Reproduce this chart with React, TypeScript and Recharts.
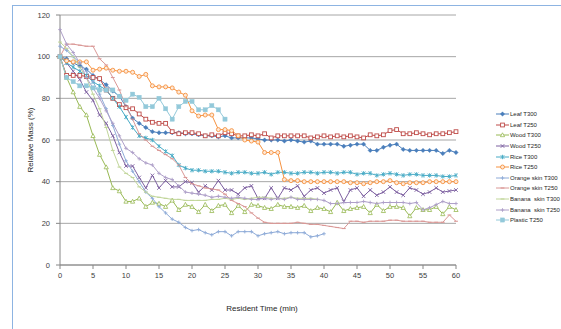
import React from "react";
import { LineChart, Line, XAxis, YAxis, CartesianGrid } from "recharts";

const times = [
  0, 1, 2, 3, 4, 5, 6, 7, 8, 9, 10, 11, 12, 13, 14, 15, 16, 17, 18, 19, 20,
  21, 22, 23, 24, 25, 26, 27, 28, 29, 30, 31, 32, 33, 34, 35, 36, 37, 38, 39, 40,
  41, 42, 43, 44, 45, 46, 47, 48, 49, 50, 51, 52, 53, 54, 55, 56, 57, 58, 59, 60,
];
const xTicks = [0, 5, 10, 15, 20, 25, 30, 35, 40, 45, 50, 55, 60];
const yTicks = [0, 20, 40, 60, 80, 100, 120];

const leafT300 = [
  100, 99, 97, 95.5, 94, 91, 89, 86.5, 83.5, 81,
  76, 70.5, 68, 66, 64, 63.5, 63.5, 63.5, 63.5, 63,
  63, 62.5, 62, 62, 61.5, 62, 61, 61, 61, 61,
  60.5, 60, 60, 60, 59.5, 60, 59.5, 59, 59.5, 58,
  58, 58, 58, 57, 57.5, 58, 58, 55, 55, 56.5,
  57.5, 58, 55.5, 55, 55, 55, 55, 55, 53.5, 55,
  54,
];
const leafT250 = [
  100, 91, 91, 91, 90.5, 90, 89.5, 84, 80, 77,
  75.5, 75, 72.5, 70, 68.5, 68, 68, 64, 63, 63.5,
  63.5, 63, 62, 62.5, 62, 63.5, 63, 62, 62, 62.5,
  62, 63, 61, 62, 62, 62, 62, 62, 61, 61.5,
  62, 61.5, 62, 61.5, 62, 61.5, 61, 62.5, 62, 62.5,
  64.5, 65, 63, 63, 63.5, 63, 62.5, 63, 63, 63.5,
  64,
];
const woodT300 = [
  100, 90, 83, 76, 72, 62, 53, 47, 37, 35.5,
  30.5, 30.5, 32, 28, 30, 29.5, 28, 31, 26.5, 29,
  28, 25.5, 29, 26, 28.5, 29, 25, 28.5, 25.5, 29,
  28.5, 27.5, 27, 29, 28, 28, 27.5, 28.5, 26, 27.5,
  27, 25.5, 30, 26, 27, 27.5, 28, 25, 29, 26,
  28, 28, 27.5, 23.5, 27.5, 26.5, 26.5, 28, 24.5, 28,
  26.5,
];
const woodT250 = [
  100, 97, 93, 89, 83, 79, 72, 68, 62, 54,
  47.5, 47.5, 42, 37, 43, 37, 40.5, 37.5, 37.5, 40,
  39.5, 35, 38, 36, 40.5, 36, 36, 34, 37, 38,
  32, 32, 37, 32, 37, 36, 38, 33, 36, 37,
  34.5, 36, 37, 30.5, 36, 37, 33, 36, 33.5, 35,
  37.5, 35, 33.5, 37, 36, 34, 35, 37, 35, 35.5,
  36,
];
const riceT300 = [
  100, 97, 95, 93, 91, 88, 86, 84, 80, 76,
  71, 66, 62, 61, 60, 57, 54.5, 52.5, 48, 46.5,
  45.5, 45.5, 45, 45, 45, 44.5, 44, 44.5, 44.5, 44,
  44, 44.5, 43.5, 44.5, 44.5, 44, 44, 44.5, 44.5, 44,
  44.5, 44.5, 44, 44.5, 44.5, 43.5, 44, 44, 43, 43.5,
  44, 43.5, 43, 43.5, 43.5, 43, 43, 43, 42.5, 42.5,
  43,
];
const riceT250 = [
  100, 98, 97.5, 97.5, 97.5, 93.5, 94, 94.5, 93.5, 93,
  93, 92.5, 90.5, 91.5, 86, 85.5, 85.5, 85, 83, 81.5,
  74, 71.5, 72, 72, 65, 65, 64.5, 62, 60, 59.5,
  59, 54, 54, 54, 41, 40.5, 40.5, 40, 40, 40,
  40, 40, 40, 40, 39.5, 39.5, 39, 39.5, 40, 40,
  40.5, 39.5, 39, 39.5, 39.5, 39.5, 40, 40, 40, 40,
  40,
];
const orangeSkinT300 = [
  105, 103, 100, 97, 93, 88, 82, 75, 67, 58,
  50, 45, 40, 35, 32, 28, 25, 22, 20.5, 18,
  16.5, 17, 15.5, 14.5, 16, 16, 14, 16, 16, 16,
  14, 15, 15.5, 16, 15, 15.5, 15.5, 15.5, 13.5, 14,
  15,
];
const orangeSkinT250 = [
  100, 106, 106, 105.5, 105, 105, 99, 96, 90, 84,
  76, 70, 63, 60, 57, 55, 53, 51, 48, 42,
  39, 38, 37, 36.5, 36, 34, 31, 29.5, 28, 25,
  22.5, 20.5, 20, 20, 20, 20, 20.5, 20, 19.5, 19.5,
  19, 18.5, 18, 17.5, 21, 21, 20.5, 21, 21, 21,
  21.5, 21.5, 21, 21, 21, 21, 20.5, 20.5, 20.5, 24,
  21,
];
const bananaSkinT300 = [
  107, 104, 100, 95, 90, 82, 75, 66, 55, 47,
  44, 42, 37.5, 35, 33, 32.5, 32, 31.5, 31.5, 31,
  31, 31, 31, 31.5, 31.5, 32, 31.5, 32, 31.5, 32,
  32.5, 32.5, 32, 32, 32, 32.5, 32, 32, 32, 31.5,
];
const bananaSkinT250 = [
  113, 106, 102, 97, 90, 85, 80, 74, 68, 62,
  56, 54, 51, 49, 48, 44, 42, 41, 38, 35,
  34.5, 34, 33.5, 32.5, 33, 32.5, 32, 32.5, 32, 31.5,
  31.5, 32, 31.5, 32, 31.5, 32.5, 31.5, 31.5, 31.5, 31.5,
  31, 29.5, 29.5, 30, 30, 30, 30.5, 30, 29.5, 30,
  30, 30, 30, 29.5, 30, 26.5, 27.5, 29, 30.5, 29.5,
  29.5,
];
const plasticT250 = [
  100, 90, 88, 86, 86, 85, 84, 84, 84, 81,
  79, 82, 80.5, 76, 76, 80, 75, 70, 76, 78.5,
  78.5, 74.5, 74.5, 76.5, 74.5, 70,
];

type Shape =
  | "diamond"
  | "square"
  | "triangle"
  | "x"
  | "star"
  | "circle"
  | "plus"
  | "dash"
  | "filledSquare";

const series: { key: string; name: string; values: number[]; color: string; shape: Shape }[] = [
  { key: "leafT300", name: "Leaf T300", values: leafT300, color: "#4A7EBB", shape: "diamond" },
  { key: "leafT250", name: "Leaf T250", values: leafT250, color: "#BE4B48", shape: "square" },
  { key: "woodT300", name: "Wood T300", values: woodT300, color: "#98B954", shape: "triangle" },
  { key: "woodT250", name: "Wood T250", values: woodT250, color: "#7D60A0", shape: "x" },
  { key: "riceT300", name: "Rice T300", values: riceT300, color: "#46AAC5", shape: "star" },
  { key: "riceT250", name: "Rice T250", values: riceT250, color: "#F69240", shape: "circle" },
  { key: "orangeSkinT300", name: "Orange skin T300", values: orangeSkinT300, color: "#8EABD8", shape: "plus" },
  { key: "orangeSkinT250", name: "Orange skin T250", values: orangeSkinT250, color: "#DA9896", shape: "dash" },
  { key: "bananaSkinT300", name: "Banana  skin T300", values: bananaSkinT300, color: "#C1D69A", shape: "dash" },
  { key: "bananaSkinT250", name: "Banana  skin T250", values: bananaSkinT250, color: "#AE9FC8", shape: "plus" },
  { key: "plasticT250", name: "Plastic T250", values: plasticT250, color: "#93C9DA", shape: "filledSquare" },
];

const rows = times.map((t, i) => {
  const r: Record<string, number | null> = { t };
  series.forEach((s) => {
    r[s.key] = s.values[i] === undefined ? null : s.values[i];
  });
  return r;
});

function drawMarker(shape: Shape, color: string, cx: number, cy: number) {
  const s = 1.8;
  switch (shape) {
    case "diamond":
      return (
        <path
          d={`M${cx},${cy - 2.2}L${cx + 2.2},${cy}L${cx},${cy + 2.2}L${cx - 2.2},${cy}Z`}
          fill={color}
          stroke={color}
          strokeWidth={0.4}
        />
      );
    case "square":
      return (
        <rect x={cx - 1.9} y={cy - 1.9} width={3.8} height={3.8} fill="#fff" stroke={color} strokeWidth={0.9} />
      );
    case "triangle":
      return (
        <path
          d={`M${cx},${cy - 2.2}L${cx + 2.1},${cy + 1.7}L${cx - 2.1},${cy + 1.7}Z`}
          fill="#fff"
          stroke={color}
          strokeWidth={0.8}
        />
      );
    case "x":
      return (
        <path
          d={`M${cx - s},${cy - s}L${cx + s},${cy + s}M${cx - s},${cy + s}L${cx + s},${cy - s}`}
          stroke={color}
          strokeWidth={0.9}
          fill="none"
        />
      );
    case "star":
      return (
        <path
          d={`M${cx - s},${cy - s}L${cx + s},${cy + s}M${cx - s},${cy + s}L${cx + s},${cy - s}M${cx},${cy - 2.2}L${cx},${cy + 2.2}`}
          stroke={color}
          strokeWidth={0.9}
          fill="none"
        />
      );
    case "circle":
      return <circle cx={cx} cy={cy} r={2} fill="#FDE9D9" stroke={color} strokeWidth={0.9} />;
    case "plus":
      return (
        <path
          d={`M${cx - s},${cy}L${cx + s},${cy}M${cx},${cy - s}L${cx},${cy + s}`}
          stroke={color}
          strokeWidth={0.9}
          fill="none"
        />
      );
    case "dash":
      return <path d={`M${cx - 1.9},${cy}L${cx + 1.9},${cy}`} stroke={color} strokeWidth={1.1} fill="none" />;
    case "filledSquare":
      return <rect x={cx - 2.1} y={cy - 2.1} width={4.2} height={4.2} fill={color} stroke={color} strokeWidth={0.4} />;
  }
  return null;
}

const makeDot = (shape: Shape, color: string, name: string) => (p: any) => {
  const { cx, cy, index, value } = p;
  if (cx == null || cy == null || value == null || Number.isNaN(cy)) {
    return <g key={`${name}-e-${index}`} />;
  }
  return <g key={`${name}-d-${index}`}>{drawMarker(shape, color, cx, cy)}</g>;
};

const FONT = "'Liberation Sans', Arial, sans-serif";

export default function App() {
  return (
    <div
      style={{
        position: "absolute",
        left: 0,
        top: 0,
        width: 561,
        height: 329,
        overflow: "hidden",
        background: "#fff",
        fontFamily: FONT,
      }}
    >
      <div
        style={{
          position: "absolute",
          left: 12,
          top: 5,
          width: 600,
          height: 400,
          border: "1px solid #8DB4E2",
        }}
      />
      <div style={{ position: "absolute", left: 0, top: 0 }}>
        <LineChart
          width={561}
          height={329}
          data={rows}
          margin={{ top: 15, right: 105, bottom: 34, left: 30 }}
        >
          <CartesianGrid vertical={false} stroke="#A6A6A6" strokeWidth={1} />
          <XAxis
            dataKey="t"
            type="number"
            domain={[0, 60]}
            ticks={xTicks}
            interval={0}
            height={30}
            axisLine={{ stroke: "#868686" }}
            tickLine={{ stroke: "#868686" }}
            tickSize={4}
            tickMargin={4}
            tick={{ fontSize: 7.5, fill: "#404040", fontFamily: FONT }}
          />
          <YAxis
            type="number"
            domain={[0, 120]}
            ticks={yTicks}
            interval={0}
            width={30}
            axisLine={{ stroke: "#868686" }}
            tickLine={{ stroke: "#868686" }}
            tickSize={4}
            tickMargin={6}
            tick={{ fontSize: 7.5, fill: "#404040", fontFamily: FONT }}
          />
          {series.map((s) => (
            <Line
              key={s.key}
              type="linear"
              dataKey={s.key}
              name={s.name}
              stroke={s.color}
              strokeWidth={1}
              dot={makeDot(s.shape, s.color, s.key)}
              activeDot={false}
              isAnimationActive={false}
              connectNulls={false}
            />
          ))}
        </LineChart>
      </div>
      <div
        style={{
          position: "absolute",
          left: 30,
          top: 140,
          transform: "translate(-50%, -50%) rotate(-90deg)",
          fontSize: 8,
          color: "#262626",
          whiteSpace: "nowrap",
        }}
      >
        Relative Mass (%)
      </div>
      <div
        style={{
          position: "absolute",
          left: 262,
          top: 308,
          transform: "translate(-50%, -50%)",
          fontSize: 8,
          color: "#262626",
          whiteSpace: "nowrap",
        }}
      >
        Resident Time (min)
      </div>
      <div style={{ position: "absolute", left: 496, top: 109 }}>
        {series.map((s) => (
          <div key={s.key} style={{ display: "flex", alignItems: "center", height: 10.6 }}>
            <svg width={13} height={8} style={{ display: "block" }}>
              <line x1={0} y1={4} x2={13} y2={4} stroke={s.color} strokeWidth={1} />
              {drawMarker(s.shape, s.color, 6.5, 4)}
            </svg>
            <span style={{ fontSize: 6, color: "#262626", marginLeft: 1, whiteSpace: "pre" }}>{s.name}</span>
          </div>
        ))}
      </div>
    </div>
  );
}
